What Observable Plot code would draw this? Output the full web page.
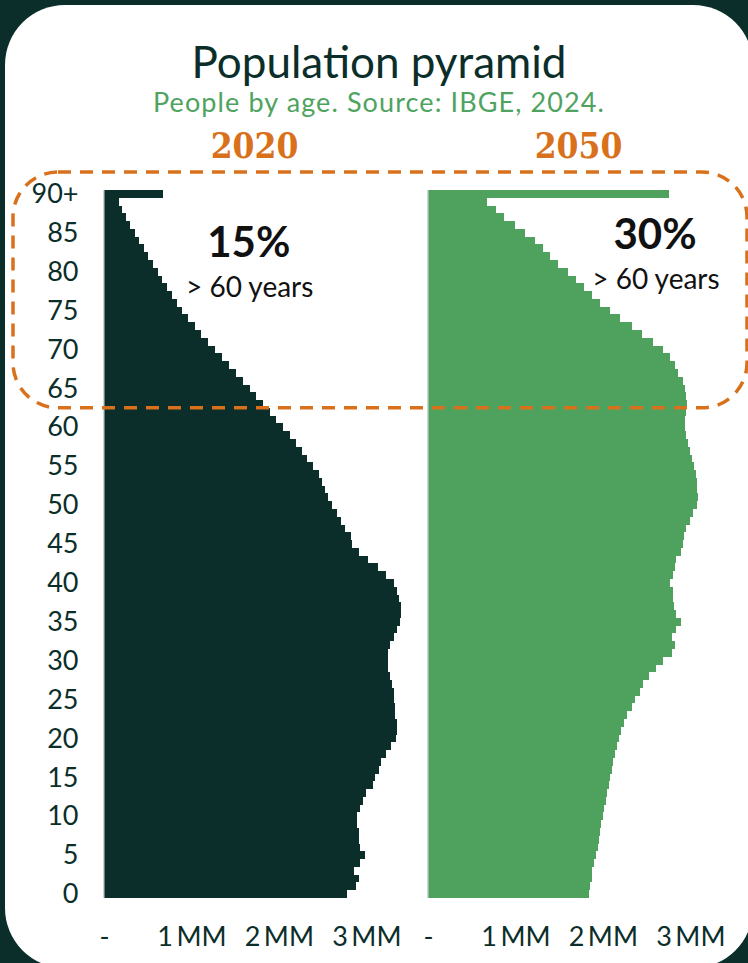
<!DOCTYPE html>
<html>
<head>
<meta charset="utf-8">
<script src="https://cdn.jsdelivr.net/npm/d3@7"></script>
<script src="https://cdn.jsdelivr.net/npm/@observablehq/plot@0.6"></script>
<style>
  html, body { margin: 0; padding: 0; background: #0b2e2b; }
  #wrap { position: relative; width: 748px; height: 963px; overflow: hidden; background: #0b2e2b; }
  #card { position: absolute; left: 5px; top: 5px; width: 748px; height: 963px; background: #ffffff; border-radius: 60px; }
  #title { position: absolute; left: 5px; width: 748px; top: 39px; text-align: center;
           font-family: Lato, "Open Sans", sans-serif; font-size: 44px; line-height: 44px; color: #0b2e2a; }
  #subtitle { position: absolute; left: 5px; width: 748px; top: 88px; text-align: center; letter-spacing: 1.1px;
              font-family: Lato, "Open Sans", sans-serif; font-size: 27px; line-height: 27px; color: #4fa35f; }
  #chart { position: absolute; left: 0; top: 120px; }
  #chart svg { overflow: visible; }
</style>
</head>
<body>
<div id="wrap">
  <div id="card"></div>
  <div id="title">Population pyramid</div>
  <div id="subtitle">People by age. Source: IBGE, 2024.</div>
  <div id="chart"></div>
</div>
<script>
// ---- data ----
const years = ["2020", "2050"];
const ages = ["0","1","2","3","4","5","6","7","8","9",
  "10","11","12","13","14","15","16","17","18","19",
  "20","21","22","23","24","25","26","27","28","29",
  "30","31","32","33","34","35","36","37","38","39",
  "40","41","42","43","44","45","46","47","48","49",
  "50","51","52","53","54","55","56","57","58","59",
  "60","61","62","63","64","65","66","67","68","69",
  "70","71","72","73","74","75","76","77","78","79",
  "80","81","82","83","84","85","86","87","88","89","90+"];
// population in millions, age 0 -> 90+
const pop2020 = [2.78,2.88,2.91,2.86,2.93,2.98,2.93,2.91,2.91,2.89,
  2.89,2.93,2.96,2.99,3.07,3.10,3.14,3.17,3.22,3.28,
  3.34,3.35,3.35,3.33,3.33,3.31,3.31,3.29,3.27,3.25,
  3.25,3.25,3.27,3.31,3.35,3.38,3.40,3.39,3.37,3.35,
  3.31,3.22,3.13,3.02,2.92,2.83,2.82,2.75,2.71,2.66,
  2.61,2.56,2.53,2.49,2.46,2.39,2.32,2.26,2.19,2.13,
  2.05,1.97,1.90,1.82,1.74,1.67,1.59,1.51,1.43,1.35,
  1.27,1.19,1.11,1.04,0.96,0.89,0.83,0.78,0.72,0.66,
  0.62,0.56,0.50,0.46,0.40,0.35,0.30,0.25,0.21,0.17,0.67];
const pop2050 = [1.84,1.85,1.87,1.88,1.90,1.92,1.94,1.95,1.97,1.98,
  2.00,2.01,2.03,2.05,2.07,2.08,2.10,2.12,2.14,2.16,
  2.18,2.21,2.24,2.27,2.33,2.37,2.42,2.46,2.53,2.61,
  2.69,2.79,2.82,2.79,2.83,2.89,2.83,2.81,2.80,2.80,
  2.77,2.80,2.82,2.83,2.89,2.91,2.93,2.95,2.99,3.03,
  3.07,3.09,3.08,3.07,3.06,3.04,3.02,3.00,2.97,2.95,
  2.94,2.94,2.95,2.96,2.95,2.94,2.91,2.86,2.82,2.77,
  2.69,2.57,2.45,2.33,2.20,2.08,1.97,1.87,1.78,1.69,
  1.60,1.49,1.39,1.31,1.22,1.11,0.99,0.87,0.78,0.68,2.76];
const yTicks = ["0","5","10","15","20","25","30","35","40","45","50","55","60","65","70","75","80","85","90+"];
const xTicks = [0, 1, 2, 3];
const shares = ["15%", "30%"];
const shareNote = "> 60 years";

// ---- styles ----
const DARK = "#0b2e2a", GREEN = "#4ea25e", ORANGE = "#d9711c";

const rows = ages.flatMap((a, i) => [
  {year: "2020", age: a, pop: pop2020[i]},
  {year: "2050", age: a, pop: pop2050[i]}
]);

const chart = Plot.plot({
  width: 748, height: 843,
  marginLeft: 104, marginRight: 20, marginTop: 70, marginBottom: 65,
  style: {background: "transparent", overflow: "visible", fontFamily: "Lato, sans-serif"},
  fx: {domain: years, paddingInner: 24 / 324, paddingOuter: 0, axis: null, label: null},
  x: {domain: [0, 3.43]},
  y: {domain: ages.slice().reverse(), padding: 0},
  color: {domain: years, range: [DARK, GREEN]},
  marks: [
    Plot.barX(rows, {fx: "year", y: "age", x: "pop", fill: "year", shapeRendering: "crispEdges"}),
    Plot.ruleX([0], {stroke: "#cfd4d3", strokeWidth: 1.5, dx: -0.75}),
    Plot.axisY({ticks: yTicks, tickSize: 0, tickPadding: 26, fontSize: 27, color: DARK, label: null, fontFamily: "Lato, sans-serif"}),
    Plot.axisX({ticks: xTicks, tickFormat: d => d === 0 ? "-" : d + "\u2009MM", tickSize: 0, tickPadding: 28,
      fontSize: 27, color: DARK, label: null, fontFamily: "Lato, sans-serif"}),
    Plot.text(years, {fx: d => d, text: d => d, frameAnchor: "top", dy: -44, lineAnchor: "middle",
      fill: ORANGE, fontSize: 35, fontWeight: "bold", fontFamily: "'DejaVu Serif', 'Liberation Serif', serif",
      stroke: null}),
    Plot.text(years, {fx: d => d, text: (d, i) => shares[i], x: [1.65, 2.59], y: ["84", "85"], dy: 2,
      lineAnchor: "middle", fontSize: 42, fontWeight: "bold", fill: "#111", fontFamily: "Lato, sans-serif"}),
    Plot.text(years, {fx: d => d, text: () => shareNote, x: [1.66, 2.6], y: ["78", "79"], dy: 0,
      lineAnchor: "middle", fontSize: 28, fill: "#111", fontFamily: "Lato, sans-serif"})
  ]
});

// year headers: condensed look
d3.select(chart).selectAll("text").filter(function() { return years.includes(this.textContent); })
  .style("font-stretch", "condensed");

// dashed highlight frame around the 63+ age groups, bottom edge from the y scale
const ys = chart.scale("y");
const yBottom = ys.apply("63") + ys.bandwidth;
d3.select(chart).append("rect")
  .attr("x", 13).attr("y", 52)
  .attr("width", 734).attr("height", yBottom - 52)
  .attr("rx", 45).attr("ry", 45)
  .attr("fill", "none").attr("stroke", ORANGE)
  .attr("stroke-width", 3.5).attr("stroke-dasharray", "13 9");

document.getElementById("chart").appendChild(chart);
</script>
</body>
</html>
